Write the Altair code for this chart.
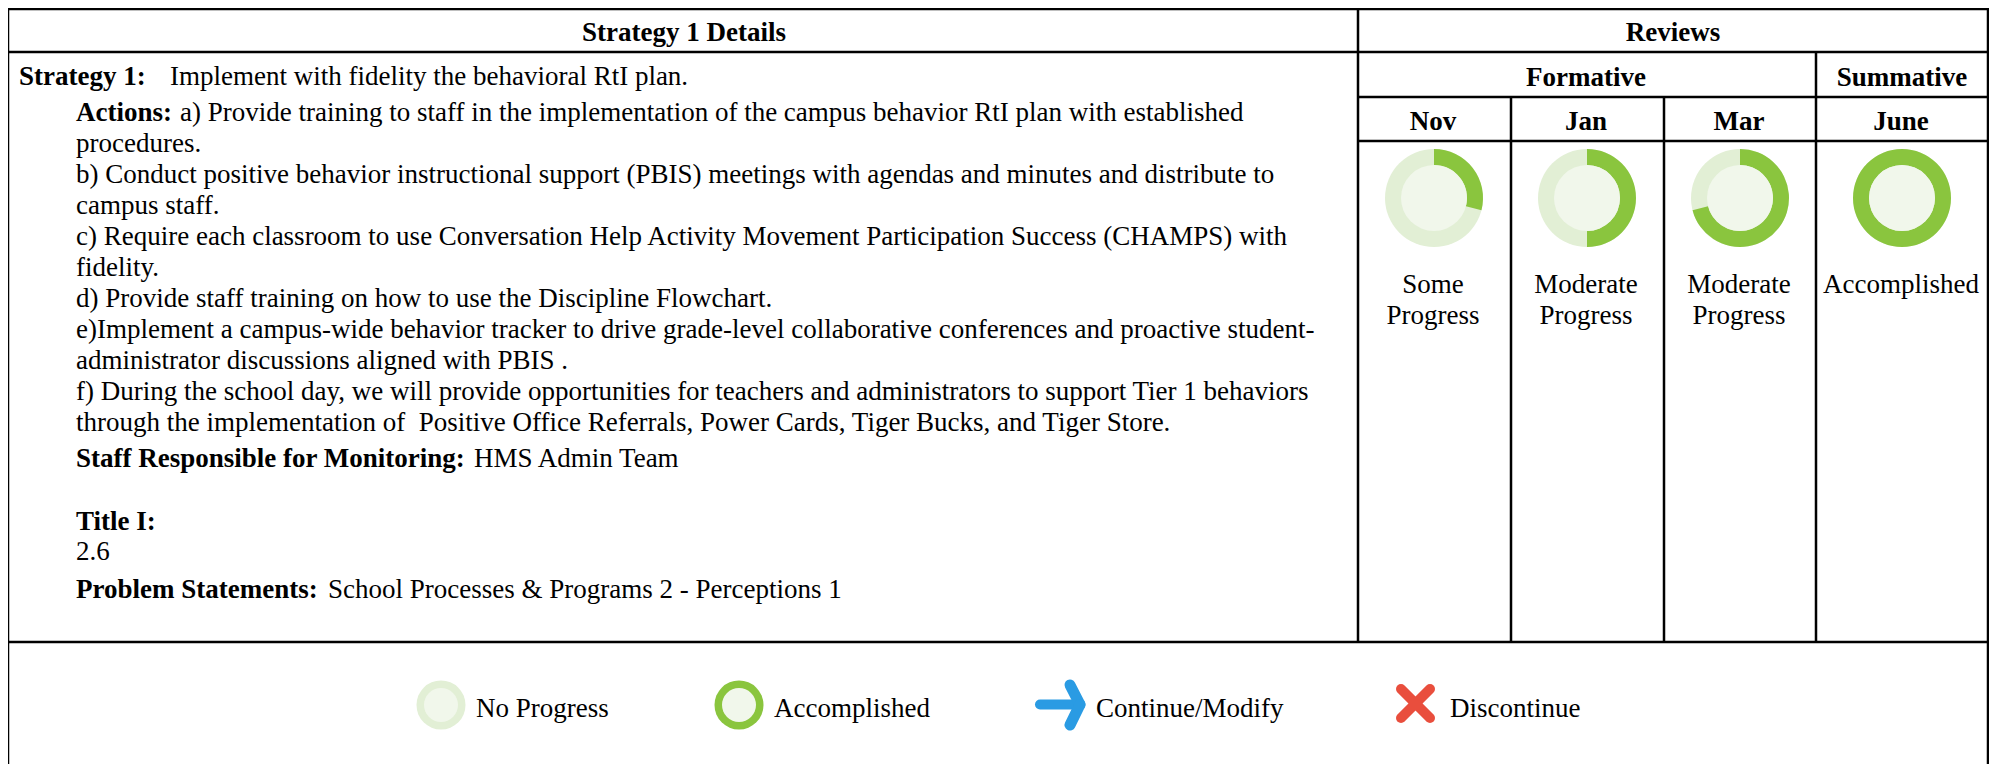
import altair as alt
import pandas as pd

FONT = "Liberation Serif"
W, H = 1981, 756

# ---- content ----
header_texts = ["Strategy 1 Details", "Reviews", "Formative", "Summative", "Nov", "Jan", "Mar", "June"]
bold_texts = ["Strategy 1:", "Actions:", "Staff Responsible for Monitoring:", "Title I:", "Problem Statements:"]
plain_texts = [
    "Implement with fidelity the behavioral RtI plan.",
    "a) Provide training to staff in the implementation of the campus behavior RtI plan with established",
    "procedures.",
    "b) Conduct positive behavior instructional support (PBIS) meetings with agendas and minutes and distribute to",
    "campus staff.",
    "c) Require each classroom to use Conversation Help Activity Movement Participation Success (CHAMPS) with",
    "fidelity.",
    "d) Provide staff training on how to use the Discipline Flowchart.",
    "e)Implement a campus-wide behavior tracker to drive grade-level collaborative conferences and proactive student-",
    "administrator discussions aligned with PBIS .",
    "f) During the school day, we will provide opportunities for teachers and administrators to support Tier 1 behaviors",
    "through the implementation of \u00a0Positive Office Referrals, Power Cards, Tiger Bucks, and Tiger Store.",
    "HMS Admin Team",
    "2.6",
    "School Processes & Programs 2 - Perceptions 1",
]
months = ["Nov", "Jan", "Mar", "June"]
progress = [0.29, 0.5, 0.71, 1.0]
status_lines = [["Some", "Progress"], ["Moderate", "Progress"], ["Moderate", "Progress"], ["Accomplished"]]
legend_labels = ["No Progress", "Accomplished", "Continue/Modify", "Discontinue"]

# ---- layout (page pixels, minus the 8px page margin) ----
M = 8
def px(v): return v - M

GREEN, TRACK, INNER = "#8AC53E", "#E2EFD5", "#F1F7EB"
BLUE, RED = "#2A9BE3", "#E94E3D"
SIZE = 27

xs = alt.X("x:Q", scale=alt.Scale(domain=[0, W], range=[0, W]), axis=None)
ys = alt.Y("y:Q", scale=alt.Scale(domain=[0, H], range=[0, H]), axis=None)

def rules(segs, width=2.5, color="black", cap="butt"):
    df = pd.DataFrame([{"x": px(a), "y": px(b), "x2": px(c), "y2": px(d)} for a, b, c, d in segs])
    return alt.Chart(df).mark_rule(color=color, strokeWidth=width, strokeCap=cap).encode(
        x=xs, y=ys, x2="x2:Q", y2="y2:Q")

def texts(rows, bold=False, align="left", size=SIZE):
    df = pd.DataFrame([{"x": px(a), "y": px(b), "t": t} for a, b, t in rows])
    return alt.Chart(df).mark_text(font=FONT, fontSize=size, align=align, baseline="alphabetic",
                                   fontWeight="bold" if bold else "normal", color="black").encode(
        x=xs, y=ys, text="t:N")

def arcs(cx, cy, ro, ri, frac, color):
    df = pd.DataFrame({"x": [px(cx)], "y": [px(cy)], "a": [0.0], "b": [frac * 6.283185307]})
    return alt.Chart(df).mark_arc(color=color, outerRadius=ro, innerRadius=ri).encode(
        x=xs, y=ys,
        theta=alt.Theta("a:Q", scale=None), theta2="b:Q")

def disc(cx, cy, r, color):
    df = pd.DataFrame({"x": [px(cx)], "y": [px(cy)]})
    return alt.Chart(df).mark_point(filled=True, opacity=1, color=color, size=(2 * r) ** 2, shape="circle").encode(x=xs, y=ys)

layers = []

# grid lines
YT, Y1, Y2, Y3, YB = 9, 52, 97, 141, 642
XL, XA, XB, XC, XD, XR = 8, 1358, 1511, 1664, 1816, 1988
layers.append(rules([
    (XL - 1, YT, XR + 1, YT), (XL, Y1, XR, Y1), (XA, Y2, XR, Y2), (XA, Y3, XR, Y3), (XL - 1, YB, XR + 1, YB),
    (XL, YT, XL, 764), (XR, YT, XR, 764), (XA, YT, XA, YB), (XB, Y2, XB, YB), (XC, Y2, XC, YB), (XD, Y1, XD, YB),
]))

# headers
hx = [684, 1673, 1586, 1902, 1433, 1586, 1739, 1901]
hy = [40.5, 40.5, 85.5, 85.5, 129.5, 129.5, 129.5, 129.5]
layers.append(texts([(x, y, t) for x, y, t in zip(hx, hy, header_texts)], bold=True, align="center"))

# strategy text
bx = [19, 76, 76, 76, 76]
by = [85, 121, 467, 529.5, 598]
layers.append(texts([(x, y, t) for x, y, t in zip(bx, by, bold_texts)], bold=True))
px_plain = [170, 180, 76, 76, 76, 76, 76, 76, 76, 76, 76, 76, 474, 76, 328]
py_plain = [85, 121, 152, 183, 214, 245, 276, 307, 338, 369, 400, 431, 467, 560, 598]
layers.append(texts([(x, y, t) for x, y, t in zip(px_plain, py_plain, plain_texts)]))

# donuts
centers = [1434, 1587, 1740, 1902]
CY = 198
for cx, p in zip(centers, progress):
    layers.append(disc(cx, CY, 49, TRACK))
    layers.append(arcs(cx, CY, 49, 33, p, GREEN))
    layers.append(disc(cx, CY, 33, INNER))

# status
rows = []
for cx, lines in zip([1433, 1586, 1739, 1901], status_lines):
    for i, t in enumerate(lines):
        rows.append((cx, 293 + 31 * i, t))
layers.append(texts(rows, align="center"))

# legend
LY = 705
layers.append(disc(441, LY, 24.5, TRACK)); layers.append(disc(441, LY, 17, INNER))
layers.append(disc(739, LY, 24.5, GREEN)); layers.append(disc(739, LY, 17, INNER))
layers.append(rules([(1040, 704.5, 1080, 704.5)], width=10, color=BLUE, cap="round"))
layers.append(rules([(1070, 685, 1080, 704.5), (1070, 725, 1080, 704.5)], width=11, color=BLUE, cap="round"))
layers.append(rules([(1401, 689, 1430, 718), (1430, 689, 1401, 718)], width=10, color=RED, cap="round"))
layers.append(texts([(x, 717, t) for x, t in zip([476, 774, 1096, 1450], legend_labels)]))

chart = alt.layer(*layers).properties(
    width=W, height=H,
    padding=0,
    autosize=alt.AutoSizeParams(type="none"),
    background="white",
).configure_view(stroke=None)

chart.save("out.html", embed_options={"renderer": "svg", "actions": False})
